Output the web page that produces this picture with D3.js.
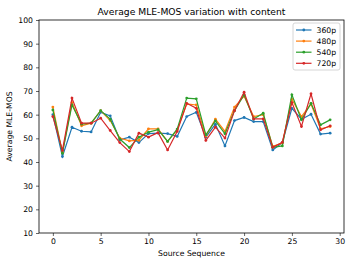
<!DOCTYPE html>
<html>
<head>
<meta charset="utf-8">
<script src="https://cdn.jsdelivr.net/npm/d3@7"></script>
<style>
  body { margin: 0; background: #fff; }
  text { font-family: "DejaVu Sans", sans-serif; fill: #000; }
</style>
</head>
<body>
<div id="chart-area"><svg></svg></div>
<script>
const labels = ["360p", "480p", "540p", "720p"];
const colors = ["#1f77b4", "#ff7f0e", "#2ca02c", "#d62728"];
const xTicks = [0, 5, 10, 15, 20, 25, 30];
const yTicks = [10, 20, 30, 40, 50, 60, 70, 80, 90, 100];

const mos360 = [60, 42.3, 54.7, 53, 52.7, 61, 59.5, 49.4, 50.5, 48.2, 52, 52.2, 52, 50.8, 59.2, 61, 50.5, 56, 46.8, 57.5, 58.8, 57.1, 57.1, 45.1, 48.2, 62.7, 58.1, 60.2, 51.8, 52.2];
const mos480 = [63.2, 44, 65.1, 55.3, 56.4, 61.7, 57.5, 50.1, 48.9, 49.2, 54, 54, 48.7, 53.5, 64.5, 64.1, 51, 58.1, 52.9, 63.2, 67.8, 59.2, 60, 46.6, 48, 66.5, 59.2, 64.5, 54, 55];
const mos540 = [62, 43.7, 64.1, 56, 56.4, 61.7, 58.1, 49.7, 46.1, 50.5, 52.6, 53.7, 48.7, 53.9, 67, 66.7, 51.5, 57.4, 51.9, 61.7, 68.4, 58.2, 60.6, 46.2, 46.8, 68.4, 57.8, 64.8, 55.7, 57.8];
const mos720 = [59.2, 44.9, 67, 56.4, 56.4, 58.5, 53.3, 48.2, 44.4, 52.2, 50.5, 52.4, 45.1, 52.9, 64.8, 62.7, 49.1, 54.7, 50.1, 61.7, 69.5, 58.2, 58.2, 46.2, 48.3, 65.1, 55, 68.8, 53.6, 55.3];
const series = [mos360, mos480, mos540, mos720];

const chartSize = { width: 354, height: 266 };
const margin = { left: 39, right: 10, top: 20, bottom: 33 };
const width = chartSize.width - margin.left - margin.right;
const height = chartSize.height - margin.top - margin.bottom;

const svg = d3.select("#chart-area svg")
  .attr("width", chartSize.width)
  .attr("height", chartSize.height);

const x = d3.scaleLinear().domain([-1.45, 30.45]).range([0, width]);
const y = d3.scaleLinear().domain([10, 100]).range([height, 0]);

const g = svg.append("g")
  .attr("transform", `translate(${margin.left},${margin.top})`);

const xAxis = g.append("g")
  .attr("transform", `translate(0,${height})`)
  .call(d3.axisBottom(x).tickValues(xTicks).tickSize(3).tickPadding(3));
const yAxis = g.append("g")
  .call(d3.axisLeft(y).tickValues(yTicks).tickSize(3).tickPadding(3));
[xAxis, yAxis].forEach(a => {
  a.select(".domain").remove();
  a.selectAll("text").style("font-size", "7.7px").style("font-family", "DejaVu Sans");
  a.selectAll("line").attr("stroke", "#000").attr("stroke-width", 0.6);
});

const line = d3.line().x((d, i) => x(i)).y(d => y(d));

series.forEach((s, k) => {
  g.append("path")
    .attr("d", line(s))
    .attr("fill", "none")
    .attr("stroke", colors[k])
    .attr("stroke-width", 1.2);
  g.selectAll(null).data(s).enter().append("circle")
    .attr("cx", (d, i) => x(i))
    .attr("cy", d => y(d))
    .attr("r", 1.4)
    .attr("fill", colors[k]);
});

g.append("rect")
  .attr("width", width).attr("height", height)
  .attr("fill", "none").attr("stroke", "#000").attr("stroke-width", 0.8);

svg.append("text")
  .attr("x", margin.left + width / 2).attr("y", 15)
  .attr("text-anchor", "middle").style("font-size", "9.2px")
  .text("Average MLE-MOS variation with content");

svg.append("text")
  .attr("x", margin.left + width / 2).attr("y", 256)
  .attr("text-anchor", "middle").style("font-size", "7.7px")
  .text("Source Sequence");

svg.append("text")
  .attr("transform", `translate(12,${margin.top + height / 2}) rotate(-90)`)
  .attr("text-anchor", "middle").style("font-size", "7.7px")
  .text("Average MLE-MOS");

const legend = svg.append("g").attr("transform", "translate(293,23)");
legend.append("rect")
  .attr("width", 47).attr("height", 47).attr("rx", 2)
  .attr("fill", "#fff").attr("fill-opacity", 0.8)
  .attr("stroke", "#ccc").attr("stroke-width", 0.8);
labels.forEach((lab, k) => {
  const ly = 7 + k * 11.1;
  legend.append("line")
    .attr("x1", 3).attr("x2", 18.5).attr("y1", ly).attr("y2", ly)
    .attr("stroke", colors[k]).attr("stroke-width", 1.2);
  legend.append("circle").attr("cx", 10.8).attr("cy", ly).attr("r", 1.4).attr("fill", colors[k]);
  legend.append("text")
    .attr("x", 23.5).attr("y", ly + 2.8)
    .style("font-size", "7.7px").text(lab);
});
</script>
</body>
</html>
